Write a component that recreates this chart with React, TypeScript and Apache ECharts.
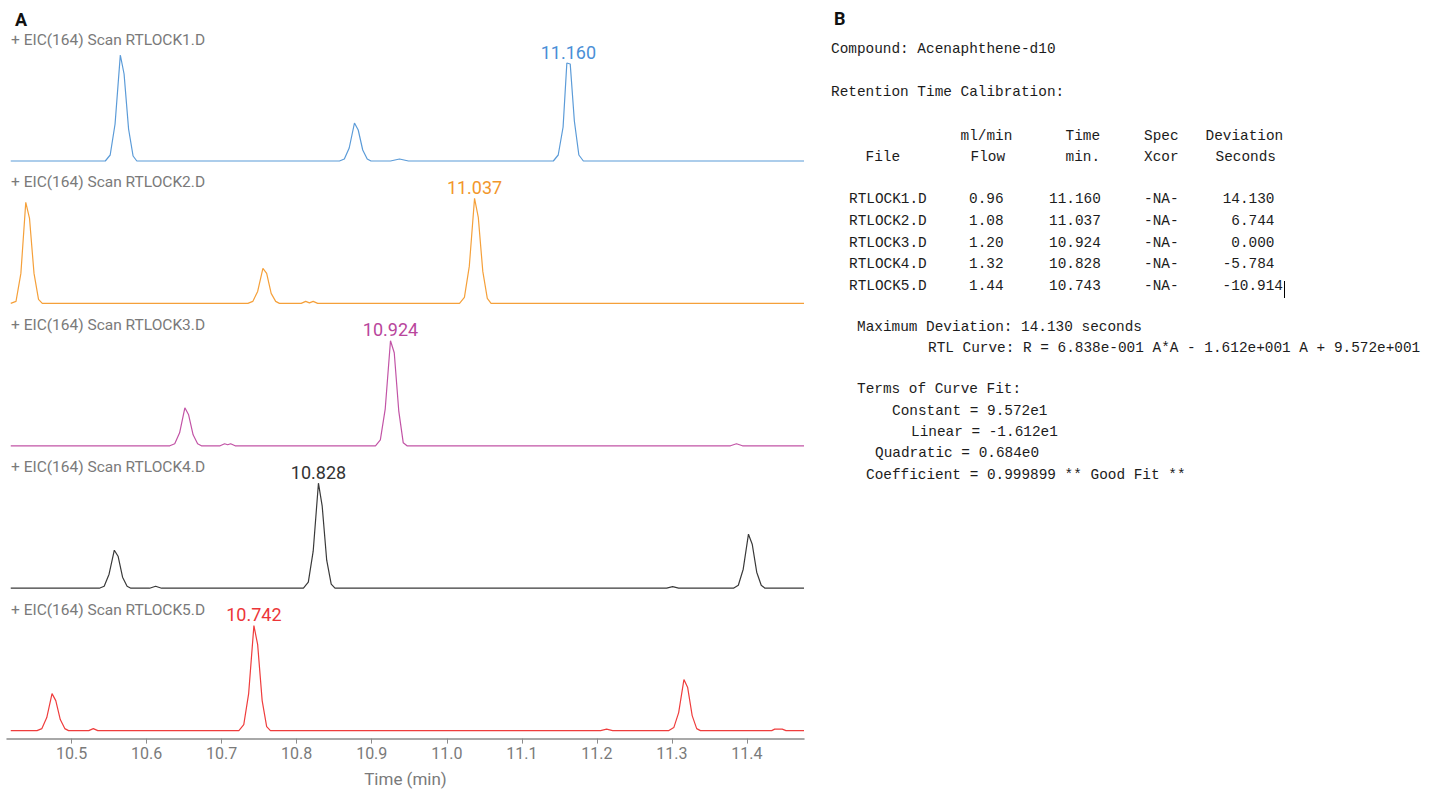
import React, { useEffect, useRef } from "react";
import * as echarts from "echarts";

// ---------- Panel A data ----------
const fileNames = ["RTLOCK1.D", "RTLOCK2.D", "RTLOCK3.D", "RTLOCK4.D", "RTLOCK5.D"];
const traceColors = ["#5b9bd8", "#f5a03a", "#c254a6", "#3a3a3a", "#ef3d3d"];
const labelColors = ["#4a8fd6", "#f2962a", "#b9469c", "#333333", "#ec3538"];

const trace1 = [
  [10.419, 0], [10.545, 0], [10.5515, 6], [10.558, 37], [10.565, 106], [10.570, 87], [10.576, 32], [10.582, 5], [10.587, 0],
  [10.857, 0], [10.8635, 2], [10.870, 13], [10.877, 38], [10.882, 31], [10.888, 11], [10.894, 2], [10.899, 0],
  [10.925, 0], [10.937, 2], [10.949, 0],
  [11.142, 0], [11.1485, 6], [11.155, 34], [11.160, 98], [11.1645, 97], [11.170, 40], [11.176, 6], [11.182, 0],
  [11.476, 0],
];
const trace2 = [
  [10.419, 0], [10.426, 2], [10.4325, 30], [10.439, 101], [10.444, 85], [10.450, 30], [10.456, 4], [10.461, 0],
  [10.735, 0], [10.7415, 2], [10.748, 12], [10.755, 35], [10.760, 30], [10.766, 10], [10.772, 2], [10.777, 0],
  [10.806, 0], [10.812, 2], [10.817, 0.5], [10.822, 2], [10.828, 0],
  [11.017, 0], [11.0235, 6], [11.030, 37], [11.037, 105], [11.042, 86], [11.048, 32], [11.054, 5], [11.059, 0],
  [11.476, 0],
];
const trace3 = [
  [10.419, 0], [10.631, 0], [10.6375, 2], [10.644, 13], [10.651, 38], [10.656, 31], [10.662, 11], [10.668, 2], [10.673, 0],
  [10.698, 0], [10.704, 2], [10.708, 1], [10.712, 2], [10.718, 0],
  [10.905, 0], [10.9115, 6], [10.918, 37], [10.925, 105], [10.930, 93], [10.936, 35], [10.942, 3], [10.947, 0],
  [11.378, 0], [11.386, 2], [11.394, 0],
  [11.476, 0],
];
const trace4 = [
  [10.419, 0], [10.537, 0], [10.5435, 2], [10.550, 14], [10.557, 38], [10.562, 32], [10.568, 11], [10.574, 2], [10.579, 0],
  [10.604, 0], [10.612, 2], [10.620, 0],
  [10.809, 0], [10.8155, 6], [10.822, 37], [10.829, 105], [10.834, 82], [10.840, 28], [10.846, 4], [10.851, 0],
  [11.293, 0], [11.301, 1.5], [11.309, 0],
  [11.382, 0], [11.3885, 3], [11.395, 19], [11.402, 54], [11.407, 44], [11.413, 16], [11.419, 3], [11.424, 0],
  [11.476, 0],
];
const trace5 = [
  [10.419, 0], [10.454, 0], [10.4605, 2], [10.467, 13], [10.474, 37], [10.479, 30], [10.485, 11], [10.491, 2], [10.496, 0],
  [10.523, 0], [10.529, 2], [10.535, 0],
  [10.723, 0], [10.7295, 6], [10.736, 37], [10.743, 105], [10.748, 86], [10.754, 30], [10.760, 4], [10.765, 0],
  [11.205, 0], [11.213, 1.5], [11.221, 0],
  [11.296, 0], [11.3025, 3], [11.309, 18], [11.316, 51], [11.321, 43], [11.327, 15], [11.333, 2], [11.338, 0],
  [11.433, 0], [11.437, 1.5], [11.447, 1.5], [11.452, 0],
  [11.476, 0],
];
const traces = [trace1, trace2, trace3, trace4, trace5];

const peakTimes = [11.162, 11.037, 10.925, 10.829, 10.743];
const peakHeights = [98, 105, 105, 105, 105];
const peakLabels = ["11.160", "11.037", "10.924", "10.828", "10.742"];
const xTicks = [10.5, 10.6, 10.7, 10.8, 10.9, 11.0, 11.1, 11.2, 11.3, 11.4];

// ---------- Panel B data ----------
const compoundName = "Acenaphthene-d10";
const flowRates = ["0.96", "1.08", "1.20", "1.32", "1.44"];
const rtTimes = ["11.160", "11.037", "10.924", "10.828", "10.743"];
const specXcor = ["-NA-", "-NA-", "-NA-", "-NA-", "-NA-"];
const deviations = ["14.130", "6.744", "0.000", "-5.784", "-10.914"];
const maxDeviation = "14.130";
const rtlCurve = "R = 6.838e-001 A*A - 1.612e+001 A + 9.572e+001";
const fitTerms = [
  ["Constant", "9.572e1"],
  ["Linear", "-1.612e1"],
  ["Quadratic", "0.684e0"],
  ["Coefficient", "0.999899 ** Good Fit **"],
];

const X_MIN = 10.414;
const X_MAX = 11.476;

export default function App() {
  const ref = useRef<HTMLDivElement>(null);

  useEffect(() => {
    if (!ref.current) return;
    const chart = echarts.init(ref.current, null, { renderer: "svg" });

    const baselines = [161, 303.4, 445.8, 588.2, 730.6];
    const grids: any[] = [];
    const xAxes: any[] = [];
    const yAxes: any[] = [];
    const series: any[] = [];
    const graphics: any[] = [];

    const sansGray = "#7a7a7a";

    baselines.forEach((yb, i) => {
      grids.push({ left: 7, width: 797, top: yb - 110, height: 118 });
      const last = i === baselines.length - 1;
      xAxes.push({
        type: "value",
        gridIndex: i,
        min: X_MIN,
        max: X_MAX,
        show: last,
        splitLine: { show: false },
        axisLine: { show: last, onZero: false, lineStyle: { color: "#8c8c8c", width: 1.5 } },
        axisTick: { show: last, customValues: xTicks, length: 5, lineStyle: { color: "#8c8c8c", width: 1 } },
        axisLabel: {
          show: last,
          customValues: xTicks,
          formatter: (v: number) => v.toFixed(1),
          color: "#7a7a7a",
          fontSize: 16,
          fontFamily: "Roboto",
          margin: 7,
        },
        name: last ? "Time (min)" : "",
        nameLocation: "middle",
        nameGap: 32,
        nameTextStyle: { color: "#7a7a7a", fontSize: 17, fontFamily: "Roboto" },
      });
      yAxes.push({ type: "value", gridIndex: i, min: -8, max: 110, show: false, splitLine: { show: false } });

      series.push({
        type: "line",
        xAxisIndex: i,
        yAxisIndex: i,
        data: traces[i],
        showSymbol: false,
        symbol: "none",
        silent: true,
        lineStyle: { color: traceColors[i], width: 1.2 },
        z: 2,
      });
      series.push({
        type: "scatter",
        xAxisIndex: i,
        yAxisIndex: i,
        symbolSize: 2,
        silent: true,
        itemStyle: { color: "rgba(255,255,255,0)" },
        data: [{ value: [peakTimes[i], peakHeights[i]], name: peakLabels[i] }],
        label: {
          show: true,
          position: "top",
          distance: 1,
          formatter: "{b}",
          color: labelColors[i],
          opacity: 1,
          fontSize: 18,
          fontFamily: "Roboto",
        },
        z: 3,
      });

      graphics.push({
        type: "text",
        x: 11,
        y: 40 + 142.4 * i,
        style: {
          text: "+ EIC(164) Scan " + fileNames[i],
          fill: sansGray,
          font: "15.5px Roboto",
          textVerticalAlign: "middle",
        },
      });
    });

    // panel letters
    graphics.push({
      type: "text",
      x: 15,
      y: 19,
      style: { text: "A", fill: "#111", font: "bold 18px Roboto", textVerticalAlign: "middle" },
    });
    graphics.push({
      type: "text",
      x: 834,
      y: 18,
      style: { text: "B", fill: "#111", font: "bold 18px Roboto", textVerticalAlign: "middle" },
    });

    const mono = "14.4px 'Liberation Mono', monospace";
    const ink = "#1c1c1c";
    const mt = (text: string, x: number, y: number, align: string = "left") => ({
      type: "text",
      x,
      y,
      silent: true,
      style: { text, fill: ink, font: mono, textAlign: align, textVerticalAlign: "middle" },
    });

    graphics.push(mt("Compound: " + compoundName, 831, 49));
    graphics.push(mt("Retention Time Calibration:", 831, 92));

    graphics.push(mt("ml/min", 960.5, 136));
    graphics.push(mt("Time", 1065.5, 136));
    graphics.push(mt("Spec", 1144, 136));
    graphics.push(mt("Deviation", 1205.5, 136));
    graphics.push(mt("File", 865.5, 157));
    graphics.push(mt("Flow", 970.5, 157));
    graphics.push(mt("min.", 1065.5, 157));
    graphics.push(mt("Xcor", 1144, 157));
    graphics.push(mt("Seconds", 1215.5, 157));

    const rowY = [199.3, 221, 242.7, 264, 285.5];
    fileNames.forEach((f, i) => {
      graphics.push(mt(f, 849, rowY[i]));
      graphics.push(mt(flowRates[i], 969, rowY[i]));
      graphics.push(mt(rtTimes[i], 1049, rowY[i]));
      graphics.push(mt(specXcor[i], 1144, rowY[i]));
      const rx = deviations[i].length > 6 ? 1283 : 1274.5;
      graphics.push(mt(deviations[i], rx, rowY[i], "right"));
    });
    // text cursor
    graphics.push({
      type: "line",
      silent: true,
      shape: { x1: 1284.5, y1: 281, x2: 1284.5, y2: 298 },
      style: { stroke: "#000", lineWidth: 1 },
    });

    graphics.push(mt("Maximum Deviation: " + maxDeviation + " seconds", 857, 326.5));
    graphics.push(mt("RTL Curve: " + rtlCurve, 928, 347.5));
    graphics.push(mt("Terms of Curve Fit:", 857, 389));
    const termX = [892, 911, 875, 866];
    const termY = [410.5, 432, 453, 474.5];
    fitTerms.forEach((t, i) => {
      graphics.push(mt(t[0] + " = " + t[1], termX[i], termY[i]));
    });

    chart.setOption({
      animation: false,
      backgroundColor: "#ffffff",
      grid: grids,
      xAxis: xAxes,
      yAxis: yAxes,
      series,
      graphic: { elements: graphics },
    });

    return () => {
      chart.dispose();
    };
  }, []);

  return (
    <div
      ref={ref}
      style={{ position: "absolute", left: 0, top: 0, width: 1438, height: 793 }}
    />
  );
}
